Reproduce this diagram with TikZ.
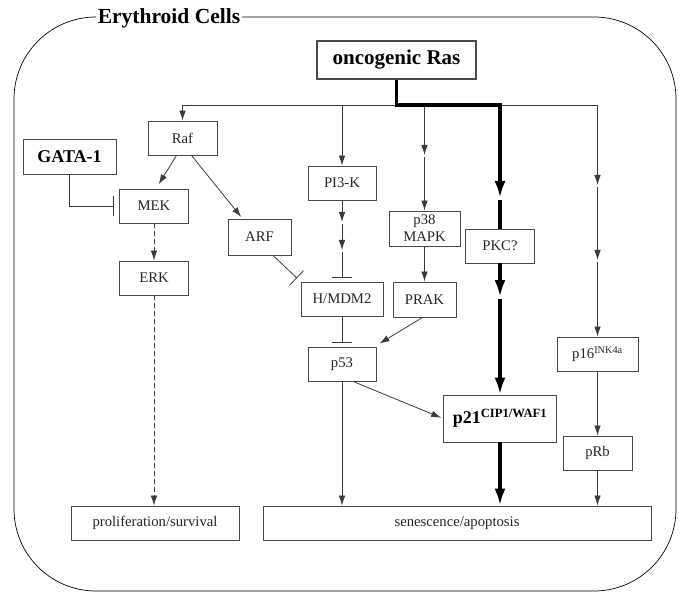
\documentclass[tikz,border=0pt]{standalone}
\usepackage{fontspec}
\setmainfont{Liberation Serif}
\usetikzlibrary{arrows.meta}
\definecolor{linegray}{HTML}{3A3A3A}
\definecolor{boxgray}{HTML}{4A4A4A}
\definecolor{inkgray}{HTML}{262626}

\begin{document}
\begin{tikzpicture}[
		x=1pt, y=-1pt,
		>={Latex[length=10pt,width=6.5pt]},
		font=\fontsize{14.7}{17}\selectfont,
		gene/.style={draw=boxgray, line width=0.9pt, fill=white, text=inkgray,
				minimum width=#1, minimum height=34pt, inner sep=1pt, align=center},
		keygene/.style={font=\fontsize{18}{20}\selectfont\bfseries, text=black},
		link/.style={draw=linegray, line width=0.8pt},
		arr/.style={link, ->},
		inhibit/.style={link, -{Bar[width=20pt]}},
		dashlink/.style={link, ->, dash pattern=on 5pt off 3pt},
		heavy/.style={draw=black, line width=3.6pt},
		heavyarr/.style={heavy, -{Latex[length=17pt,width=11pt]}},
	]
	\useasboundingbox (0,0) rectangle (684,593);

	% cell outline
	\draw[line width=0.7pt, rounded corners=82pt] (14,17) rectangle (676,591);
	\node[font=\fontsize{21.5}{24}\selectfont\bfseries, fill=white, inner sep=2pt] (cell) at (169,18) {Erythroid Cells};

	\node[gene=159pt, minimum height=38pt, line width=1.2pt, font=\fontsize{21}{23}\selectfont\bfseries, text=black] (ras) at (396.5,60) {oncogenic Ras};
	\node[gene=93pt, minimum height=35pt, keygene] (gata) at (69.5,156.5) {GATA-1};
	\node[gene=69pt] (raf) at (182.5,138) {Raf};
	\node[gene=68pt] (pi3k) at (342,183) {PI3-K};
	\node[gene=69pt] (mek) at (154,206) {MEK};
	\node[gene=63pt, minimum height=36pt] (arf) at (259.5,237) {ARF};
	\node[gene=69pt] (erk) at (154,278) {ERK};
	\node[gene=82pt] (hmdm2) at (342,299) {H/MDM2};
	\node[gene=68pt] (p53) at (342,364) {p53};
	\node[gene=71pt, minimum height=35pt] (p38) at (424.5,228.5) {p38\\MAPK};
	\node[gene=63pt, minimum height=35pt] (prak) at (424.5,299.5) {PRAK};
	\node[gene=69pt] (pkc) at (500,246) {PKC?};
	\node[gene=81pt] (p16) at (597.5,354) {p16\textsuperscript{INK4a}};
	\node[gene=113pt, minimum height=47pt, keygene] (p21) at (500,418.5) {p21\textsuperscript{CIP1/WAF1}};
	\node[gene=69pt] (prb) at (597.5,453) {pRb};
	\node[gene=168pt] (prolif) at (155,523) {proliferation/survival};
	\node[gene=388pt] (senes) at (457,523) {senescence/apoptosis};

	% branch points
	\coordinate (hub) at (397,105);
	\coordinate (k1) at (500,200);
	\coordinate (k2) at (500,299);
	\coordinate (m1) at (424.5,157);
	\coordinate (n1) at (597.5,187);
	\coordinate (n2) at (597.5,262);
	\coordinate (q1) at (342,224);
	\coordinate (q2) at (342,252);

	\draw[link] (raf |- hub) -- (p16 |- hub);
	\draw[arr] (raf |- hub) -- (raf);
	\draw[arr] (pi3k |- hub) -- (pi3k);
	\draw[arr, shorten >=2pt] (p38 |- hub) -- (m1);
	\draw[arr] (m1) -- (p38);
	\draw[arr, shorten >=2pt] (p16 |- hub) -- (n1);
	\draw[arr, shorten >=2pt] (n1) -- (n2);
	\draw[arr] (n2) -- (p16);

	% Ras -> PKC -> p21
	\draw[heavyarr, shorten >=2pt] (ras.south) |- (k1 |- hub) -- (k1);
	\draw[heavy] (k1) -- (pkc);
	\draw[heavyarr, shorten >=2pt] (pkc) -- (k2);
	\draw[heavyarr] (k2) -- (p21);
	\draw[heavyarr] (p21) -- (p21 |- senes.north);

	% Raf branch
	\draw[inhibit, shorten >=5pt] (gata) |- (mek);
	\draw[arr, shorten >=5pt] ([xshift=-6pt]raf.south) -- ([xshift=2pt]mek.north);
	\draw[arr, shorten >=2pt] ([xshift=9pt]raf.south) -- ([xshift=-17pt]arf.north);
	\draw[dashlink] (mek) -- (erk);
	\draw[dashlink] (erk) -- (erk |- prolif.north);
	\draw[inhibit, shorten >=5pt] ([xshift=13.5pt]arf.south) -- (hmdm2.north west);

	% PI3-K and p53
	\draw[arr, shorten >=2pt] (pi3k) -- (q1);
	\draw[arr, shorten >=2pt] (q1) -- (q2);
	\draw[inhibit, shorten >=4pt] (q2) -- (hmdm2);
	\draw[inhibit, shorten >=4pt] (hmdm2) -- (p53);
	\draw[arr] (p38) -- (prak);
	\draw[arr] ([xshift=-2pt]prak.south) -- ([xshift=3pt,yshift=3pt]p53.north east);
	\draw[arr, shorten >=2pt] ([xshift=11pt]p53.south) -- (p21.west);
	\draw[arr] (p53) -- (p53 |- senes.north);

	% p16 branch
	\draw[arr] (p16) -- (prb);
	\draw[arr] (prb) -- (prb |- senes.north);

\end{tikzpicture}
\end{document}
